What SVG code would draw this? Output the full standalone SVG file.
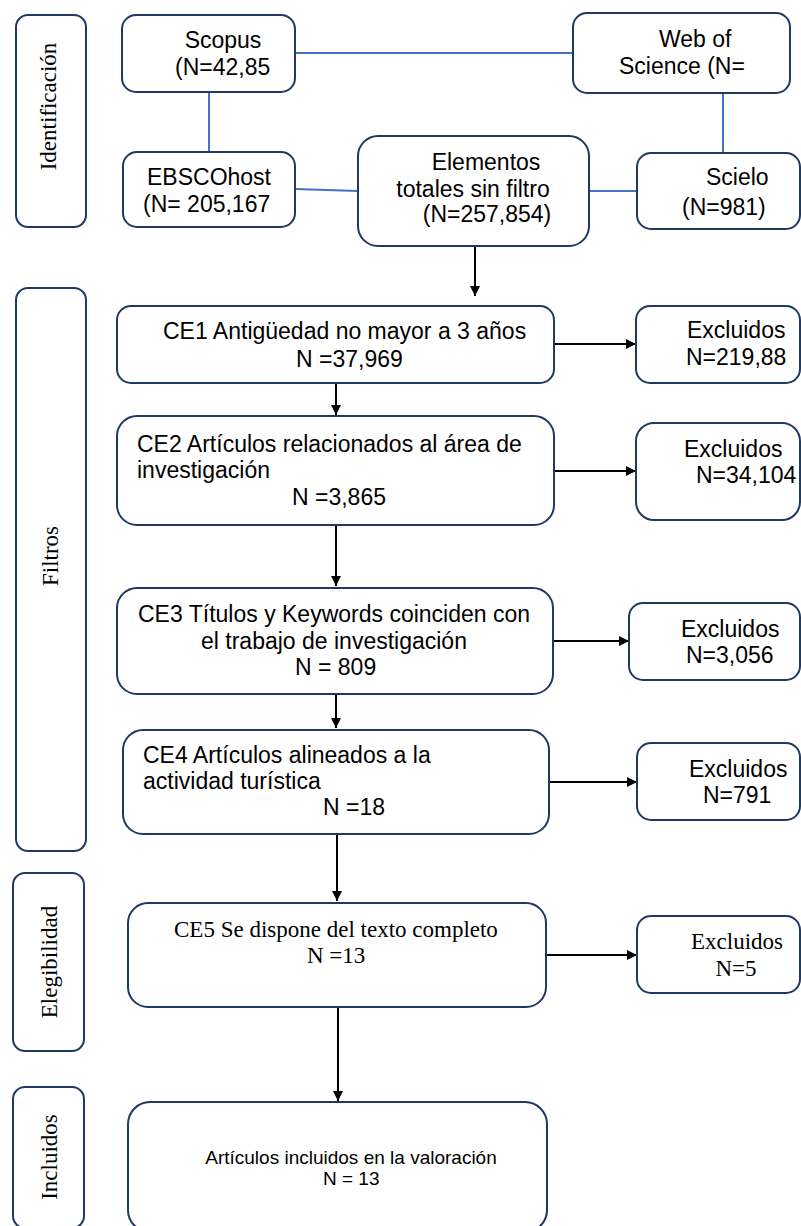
<svg xmlns="http://www.w3.org/2000/svg" width="801" height="1226" viewBox="0 0 801 1226">
<style>
.box{fill:#fff;stroke:#1f3864;stroke-width:2}
.t{font-family:"Liberation Sans",Arial,sans-serif;font-size:23px;fill:#000}
.s{font-family:"Liberation Serif","Times New Roman",serif;font-size:23px;fill:#000}
.blue{stroke:#4472c4;stroke-width:2;fill:none}
.arr{stroke:#000;stroke-width:2;fill:none;marker-end:url(#ah)}
</style>
<defs>
<marker id="ah" viewBox="0 0 10 10" refX="10" refY="5" markerWidth="5" markerHeight="5" markerUnits="strokeWidth" orient="auto">
<path d="M0,0 L10,5 L0,10 z" fill="#000"/>
</marker>
</defs>
<rect width="801" height="1226" fill="#fff"/>
<g id="connectors">
<line class="blue" x1="295" y1="53" x2="573" y2="53"/>
<line class="blue" x1="209" y1="92" x2="209" y2="152"/>
<line class="blue" x1="723" y1="90" x2="723" y2="153"/>
<line class="blue" x1="295" y1="189" x2="358" y2="191"/>
<line class="blue" x1="589" y1="191" x2="637" y2="191"/>
<line class="arr" x1="475" y1="246" x2="475" y2="296"/>
<line class="arr" x1="336" y1="383" x2="336" y2="415"/>
<line class="arr" x1="336" y1="525" x2="336" y2="586"/>
<line class="arr" x1="336" y1="694" x2="336" y2="728"/>
<line class="arr" x1="337" y1="834" x2="337" y2="901"/>
<line class="arr" x1="338" y1="1007" x2="338" y2="1101"/>
<line class="arr" x1="554" y1="344" x2="636" y2="344"/>
<line class="arr" x1="554" y1="471" x2="636" y2="471"/>
<line class="arr" x1="553" y1="641" x2="629" y2="641"/>
<line class="arr" x1="549" y1="782" x2="637" y2="782"/>
<line class="arr" x1="546" y1="955" x2="637" y2="955"/>
</g>
<g id="phase-identificacion">
<rect class="box" x="16" y="15" width="70" height="212" rx="12"/>
<text class="s" transform="translate(56,106.5) rotate(-90)" text-anchor="middle">Identificación</text>
</g>
<g id="phase-filtros">
<rect class="box" x="16" y="288" width="70" height="563" rx="12"/>
<text class="s" transform="translate(58,556) rotate(-90)" text-anchor="middle">Filtros</text>
</g>
<g id="phase-elegibilidad">
<rect class="box" x="13" y="873" width="71" height="178" rx="12"/>
<text class="s" transform="translate(57,962) rotate(-90)" text-anchor="middle">Elegibilidad</text>
</g>
<g id="phase-incluidos">
<rect class="box" x="13" y="1087" width="71" height="141" rx="12"/>
<text class="s" transform="translate(57,1157) rotate(-90)" text-anchor="middle">Incluidos</text>
</g>
<g id="scopus">
<rect class="box" x="122" y="15" width="173" height="77" rx="14"/>
<text class="t" x="223" y="48" text-anchor="middle">Scopus</text>
<text class="t" x="175" y="75">(N=42,85</text>
</g>
<g id="wos">
<rect class="box" x="573" y="13" width="217" height="80" rx="14"/>
<text class="t" x="659" y="47">Web of</text>
<text class="t" x="619" y="74">Science (N=</text>
</g>
<g id="ebsco">
<rect class="box" x="123" y="152" width="172" height="75" rx="14"/>
<text class="t" x="147" y="185">EBSCOhost</text>
<text class="t" x="143" y="212">(N= 205,167</text>
</g>
<g id="total">
<rect class="box" x="358" y="136" width="231" height="110" rx="20"/>
<text class="t" x="486" y="170" text-anchor="middle">Elementos</text>
<text class="t" x="473" y="197" text-anchor="middle">totales sin filtro</text>
<text class="t" x="487" y="222" text-anchor="middle">(N=257,854)</text>
</g>
<g id="scielo">
<rect class="box" x="637" y="153" width="163" height="76" rx="14"/>
<text class="t" x="706" y="185">Scielo</text>
<text class="t" x="682" y="215">(N=981)</text>
</g>
<g id="ce1">
<rect class="box" x="117" y="306" width="437" height="77" rx="14"/>
<text class="t" x="163" y="339">CE1 Antigüedad no mayor a 3 años</text>
<text class="t" x="296" y="367">N =37,969</text>
</g>
<g id="exc1">
<rect class="box" x="636" y="306" width="164" height="77" rx="14"/>
<text class="t" x="687" y="338">Excluidos</text>
<text class="t" x="686" y="365">N=219,88</text>
</g>
<g id="ce2">
<rect class="box" x="117" y="416" width="437" height="109" rx="20"/>
<text class="t" x="137" y="452">CE2 Artículos relacionados al área de</text>
<text class="t" x="137" y="478">investigación</text>
<text class="t" x="292" y="505">N =3,865</text>
</g>
<g id="exc2">
<rect class="box" x="636" y="423" width="164" height="97" rx="18"/>
<text class="t" x="684" y="457">Excluidos</text>
<text class="t" x="696" y="483">N=34,104</text>
</g>
<g id="ce3">
<rect class="box" x="117" y="588" width="436" height="106" rx="20"/>
<text class="t" x="138" y="622">CE3 Títulos y Keywords coinciden con</text>
<text class="t" x="201" y="649">el trabajo de investigación</text>
<text class="t" x="295" y="675">N = 809</text>
</g>
<g id="exc3">
<rect class="box" x="629" y="603" width="171" height="77" rx="14"/>
<text class="t" x="681" y="637">Excluidos</text>
<text class="t" x="686" y="663">N=3,056</text>
</g>
<g id="ce4">
<rect class="box" x="123" y="730" width="426" height="104" rx="20"/>
<text class="t" x="143" y="763">CE4 Artículos alineados a la</text>
<text class="t" x="143" y="789">actividad turística</text>
<text class="t" x="323" y="815">N =18</text>
</g>
<g id="exc4">
<rect class="box" x="637" y="743" width="163" height="77" rx="14"/>
<text class="t" x="689" y="777">Excluidos</text>
<text class="t" x="703" y="803">N=791</text>
</g>
<g id="ce5">
<rect class="box" x="128" y="903" width="418" height="104" rx="20"/>
<text class="s" x="174" y="937">CE5 Se dispone del texto completo</text>
<text class="s" x="307" y="963">N =13</text>
</g>
<g id="exc5">
<rect class="box" x="637" y="916" width="163" height="77" rx="14"/>
<text class="s" x="737" y="949" text-anchor="middle">Excluidos</text>
<text class="s" x="736" y="976" text-anchor="middle">N=5</text>
</g>
<g id="incluidos-final">
<rect class="box" x="128" y="1102" width="419" height="130" rx="22"/>
<text class="t" x="351" y="1164" text-anchor="middle" style="font-size:19px">Artículos incluidos en la valoración</text>
<text class="t" x="323" y="1185" style="font-size:19px">N = 13</text>
</g>
</svg>
